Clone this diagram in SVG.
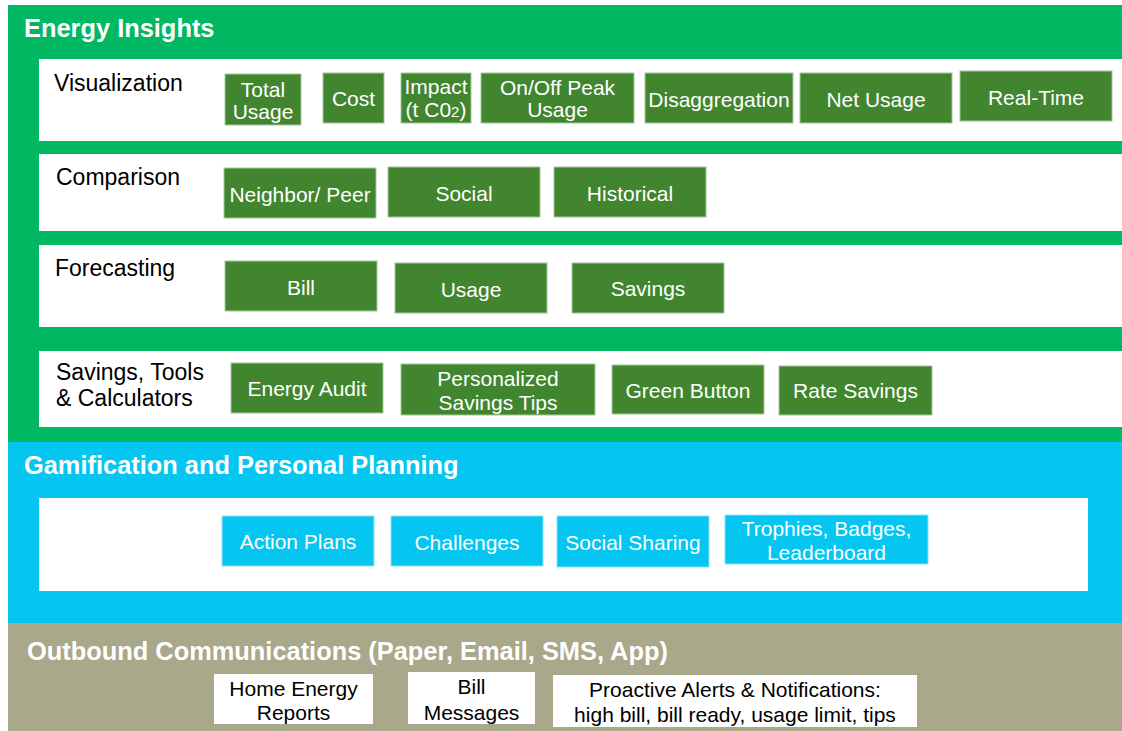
<svg xmlns="http://www.w3.org/2000/svg" width="1122" height="731" viewBox="0 0 1122 731">
<style>
text{font-family:"Liberation Sans",Arial,sans-serif}
.title{font-size:25.4px;font-weight:bold;fill:#fff}
.label{font-size:23px;fill:#000}
.gb{fill:#41862f;stroke:#a3c79c;stroke-width:1}
.bb{fill:#05c5f1;stroke:#8fe3f9;stroke-width:1}
.wb{fill:#fff}
.band{fill:#fff}
.wt{font-size:21px;fill:#fff;text-anchor:middle}
.kt{font-size:21px;fill:#000;text-anchor:middle}
</style>
<rect x="0" y="0" width="1122" height="731" fill="#fff"/>
<g id="energy-insights">
<rect x="8" y="5" width="1114" height="437" fill="#00b862"/>
<text class="title" x="24" y="37">Energy Insights</text>
</g>
<g id="visualization">
<rect class="band" x="39" y="59" width="1083" height="82"/>
<text class="label" x="54" y="91">Visualization</text>
</g>
<g id="total-usage"><rect class="gb" x="225" y="74" width="76" height="51"/><text class="wt" x="263" y="97">Total</text><text class="wt" x="263" y="119">Usage</text></g>
<g id="cost"><rect class="gb" x="323" y="73" width="61" height="50"/><text class="wt" x="353.5" y="106">Cost</text></g>
<g id="impact"><rect class="gb" x="401" y="73" width="70" height="50"/><text class="wt" x="436" y="94">Impact</text><text class="wt" x="436" y="116.5">(t C0<tspan font-size="15">2</tspan>)</text></g>
<g id="on-off-peak"><rect class="gb" x="481" y="73" width="153" height="50"/><text class="wt" x="557.5" y="95">On/Off Peak</text><text class="wt" x="557.5" y="117">Usage</text></g>
<g id="disaggregation"><rect class="gb" x="645" y="73" width="148" height="50"/><text class="wt" x="719" y="107">Disaggregation</text></g>
<g id="net-usage"><rect class="gb" x="800" y="73" width="152" height="50"/><text class="wt" x="876" y="107">Net Usage</text></g>
<g id="real-time"><rect class="gb" x="960" y="71" width="152" height="50"/><text class="wt" x="1036" y="105">Real-Time</text></g>
<g id="comparison">
<rect class="band" x="39" y="154" width="1083" height="77"/>
<text class="label" x="56" y="185">Comparison</text>
</g>
<g id="neighbor-peer"><rect class="gb" x="224" y="168" width="152" height="50"/><text class="wt" x="300" y="202">Neighbor/ Peer</text></g>
<g id="social"><rect class="gb" x="388" y="167" width="152" height="50"/><text class="wt" x="464" y="201">Social</text></g>
<g id="historical"><rect class="gb" x="554" y="167" width="152" height="50"/><text class="wt" x="630" y="201">Historical</text></g>
<g id="forecasting">
<rect class="band" x="39" y="245" width="1083" height="82"/>
<text class="label" x="55" y="276">Forecasting</text>
</g>
<g id="bill"><rect class="gb" x="225" y="261" width="152" height="50"/><text class="wt" x="301" y="295">Bill</text></g>
<g id="usage"><rect class="gb" x="395" y="263" width="152" height="50"/><text class="wt" x="471" y="297">Usage</text></g>
<g id="savings"><rect class="gb" x="572" y="263" width="152" height="50"/><text class="wt" x="648" y="296">Savings</text></g>
<g id="savings-tools">
<rect class="band" x="39" y="351" width="1083" height="76"/>
<text class="label" x="56" y="380">Savings, Tools</text>
<text class="label" x="56" y="406">&amp; Calculators</text>
</g>
<g id="energy-audit"><rect class="gb" x="231" y="363" width="152" height="50"/><text class="wt" x="307" y="396">Energy Audit</text></g>
<g id="personalized-tips"><rect class="gb" x="401" y="364" width="194" height="51"/><text class="wt" x="498" y="386">Personalized</text><text class="wt" x="498" y="410">Savings Tips</text></g>
<g id="green-button"><rect class="gb" x="612" y="365" width="152" height="49"/><text class="wt" x="688" y="398">Green Button</text></g>
<g id="rate-savings"><rect class="gb" x="779" y="366" width="153" height="49"/><text class="wt" x="855.5" y="398">Rate Savings</text></g>
<g id="gamification">
<rect x="8" y="442" width="1114" height="181" fill="#05c5f1"/>
<text class="title" x="24" y="474">Gamification and Personal Planning</text>
<rect class="band" x="39" y="498" width="1049" height="93"/>
</g>
<g id="action-plans"><rect class="bb" x="222" y="516" width="152" height="50"/><text class="wt" x="298" y="549">Action Plans</text></g>
<g id="challenges"><rect class="bb" x="391" y="516" width="152" height="50"/><text class="wt" x="467" y="550">Challenges</text></g>
<g id="social-sharing"><rect class="bb" x="557" y="516" width="152" height="51"/><text class="wt" x="633" y="550">Social Sharing</text></g>
<g id="trophies"><rect class="bb" x="725" y="515" width="203" height="49"/><text class="wt" x="826.5" y="536">Trophies, Badges,</text><text class="wt" x="826.5" y="560">Leaderboard</text></g>
<g id="outbound">
<rect x="8" y="623" width="1114" height="108" fill="#a9a88a"/>
<text class="title" x="27" y="660">Outbound Communications (Paper, Email, SMS, App)</text>
</g>
<g id="home-energy-reports"><rect class="wb" x="214" y="674" width="159" height="50"/><text class="kt" x="293.5" y="696">Home Energy</text><text class="kt" x="293.5" y="720">Reports</text></g>
<g id="bill-messages"><rect class="wb" x="408" y="672" width="127" height="52"/><text class="kt" x="471.5" y="694">Bill</text><text class="kt" x="471.5" y="720">Messages</text></g>
<g id="proactive-alerts"><rect class="wb" x="553" y="675" width="364" height="52"/><text class="kt" x="735" y="697">Proactive Alerts &amp; Notifications:</text><text class="kt" x="735" y="722">high bill, bill ready, usage limit, tips</text></g>
<g id="connectors"></g>
</svg>
